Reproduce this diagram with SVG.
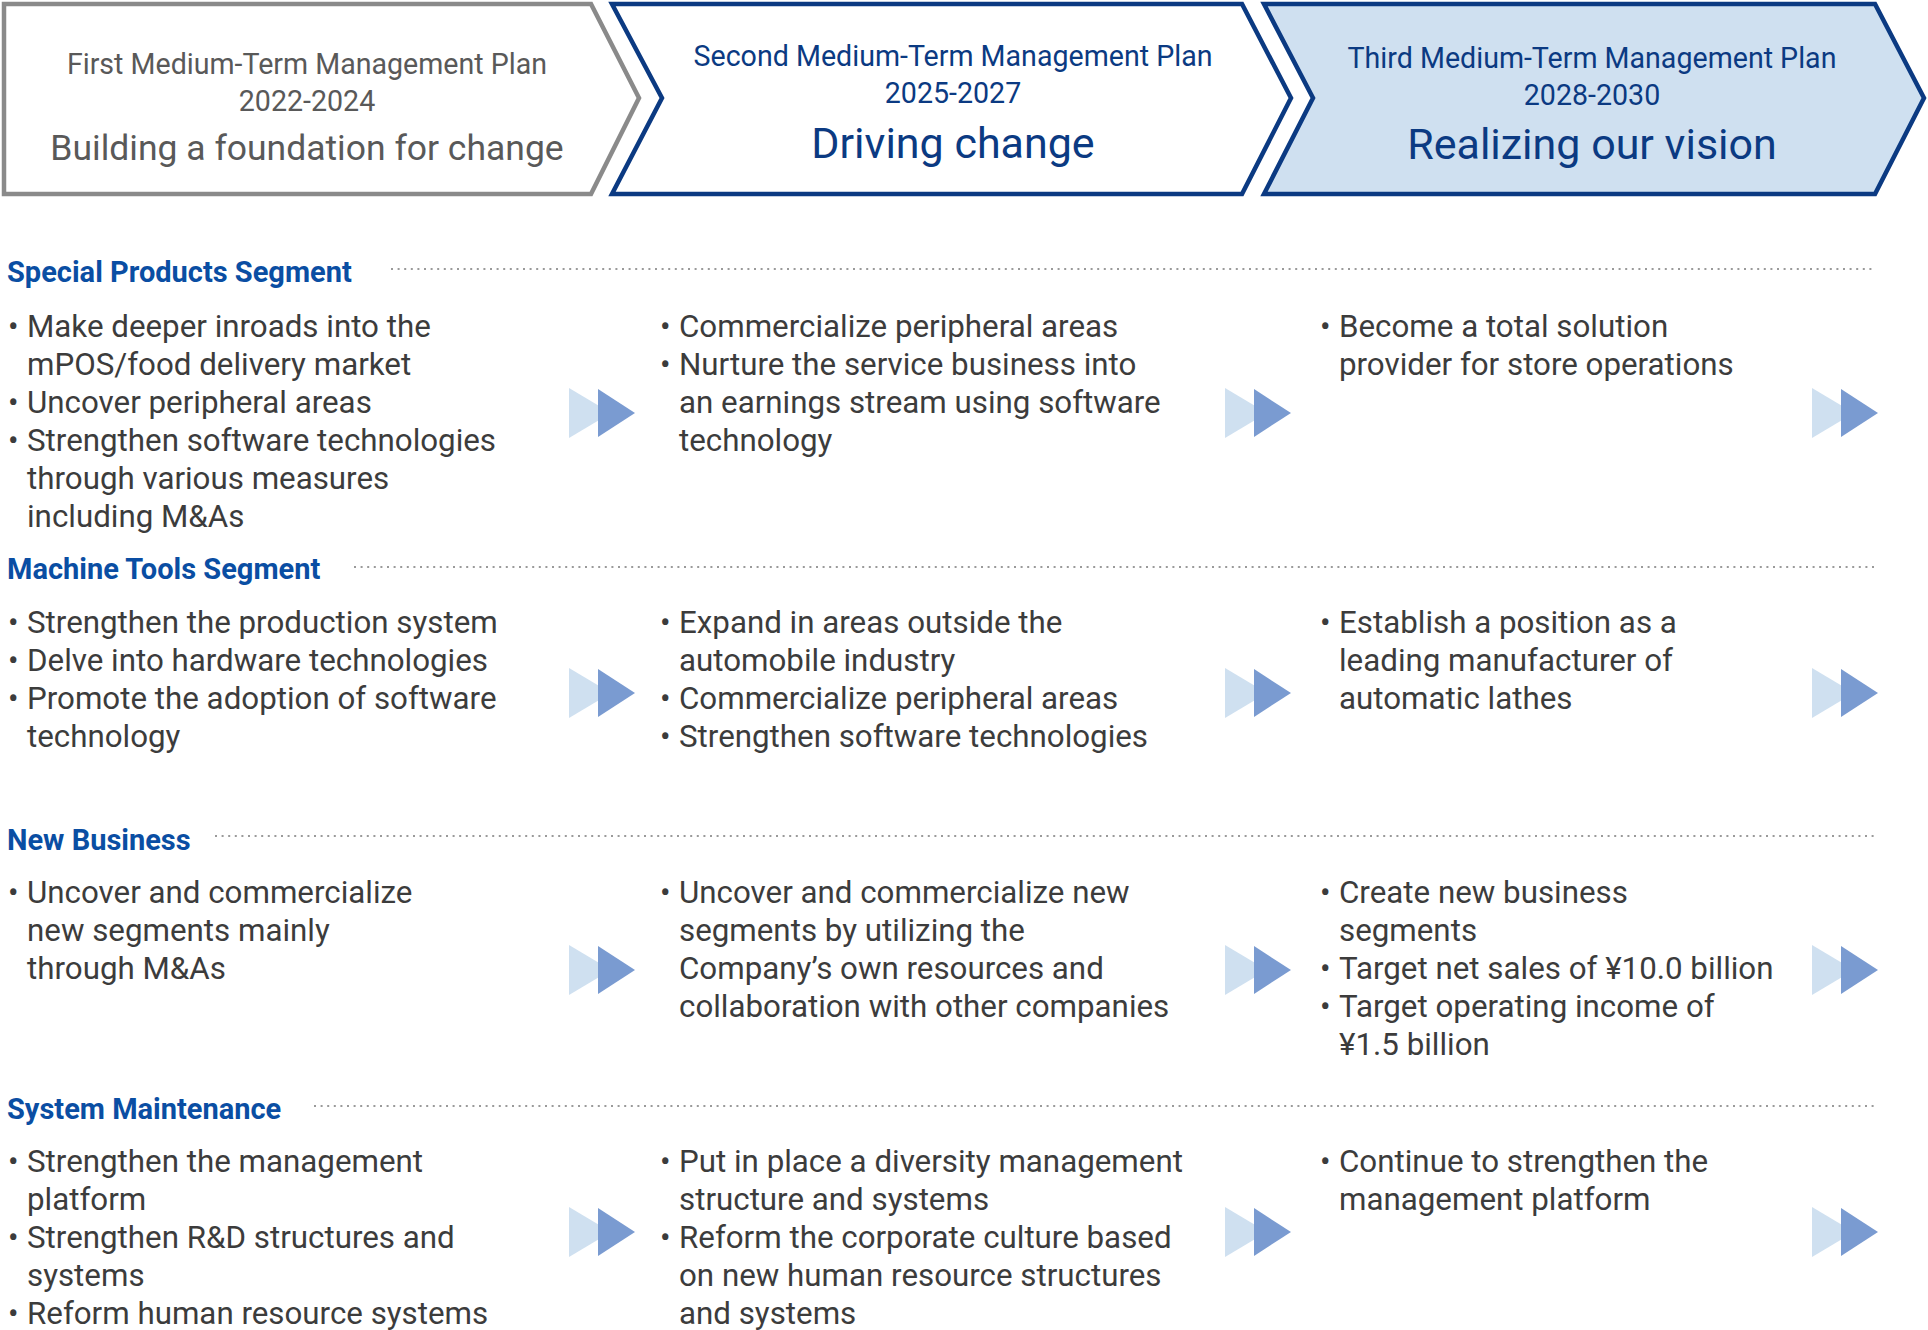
<svg xmlns="http://www.w3.org/2000/svg" width="1928" height="1330" viewBox="0 0 1928 1330">
<defs>
<style>
.t{font-family:Roboto,"Liberation Sans",sans-serif;}
.hs{font-size:28.6px;text-anchor:middle;}
.hb{font-size:43px;text-anchor:middle;}
.g{fill:#595959;}
.b{fill:#0b3a82;}
.sec{font-family:Roboto,"Liberation Sans",sans-serif;font-weight:bold;font-size:29px;fill:#0a4ea3;}
.body{font-family:Roboto,"Liberation Sans",sans-serif;font-size:31.3px;fill:#3c3c3c;}
.dot{stroke:#9a9a9a;stroke-width:2;stroke-dasharray:2 4.6;fill:none;}
.lt{fill:#cfe0f0;}
.dk{fill:#7a9bd1;}
</style>
<g id="dbl">
<polygon class="lt" points="0,0 42,25 0,50"/>
<polygon class="dk" points="29,1 66,25 29,49"/>
</g>
</defs>
<rect width="1928" height="1330" fill="#ffffff"/>

<g id="plan1">
<polygon points="4,4 591,4 639,98 591,194 4,194" fill="#ffffff" stroke="#8a8a8a" stroke-width="4.5"/>
<text class="t hs g" x="307" y="74">First Medium-Term Management Plan</text>
<text class="t hs g" x="307" y="111">2022-2024</text>
<text class="t g" x="307" y="160" font-size="35.5" text-anchor="middle">Building a foundation for change</text>
</g>
<g id="plan2">
<polygon points="612,4 1242,4 1291,98 1242,194 612,194 662,98" fill="#ffffff" stroke="#0b3a82" stroke-width="4.5"/>
<text class="t hs b" x="953" y="66">Second Medium-Term Management Plan</text>
<text class="t hs b" x="953" y="103">2025-2027</text>
<text class="t hb b" x="953" y="158">Driving change</text>
</g>
<g id="plan3">
<polygon points="1264,4 1875,4 1924,98 1875,194 1264,194 1313,98" fill="#cfe0f0" stroke="#0b3a82" stroke-width="4.5"/>
<text class="t hs b" x="1592" y="68">Third Medium-Term Management Plan</text>
<text class="t hs b" x="1592" y="105">2028-2030</text>
<text class="t hb b" x="1592" y="159">Realizing our vision</text>
</g>

<g id="connectors">
<line class="dot" x1="391" y1="269" x2="1875" y2="269"/>
<line class="dot" x1="354" y1="567" x2="1875" y2="567"/>
<line class="dot" x1="215" y1="836" x2="1875" y2="836"/>
<line class="dot" x1="314" y1="1106" x2="1875" y2="1106"/>
<use href="#dbl" x="569" y="388"/>
<use href="#dbl" x="1225" y="388"/>
<use href="#dbl" x="1812" y="388"/>
<use href="#dbl" x="569" y="668"/>
<use href="#dbl" x="1225" y="668"/>
<use href="#dbl" x="1812" y="668"/>
<use href="#dbl" x="569" y="945"/>
<use href="#dbl" x="1225" y="945"/>
<use href="#dbl" x="1812" y="945"/>
<use href="#dbl" x="569" y="1207"/>
<use href="#dbl" x="1225" y="1207"/>
<use href="#dbl" x="1812" y="1207"/>
</g>

<g id="special-products">
<text class="sec" x="7" y="282">Special Products Segment</text>
<g class="body">
<text x="8" y="337">•</text><text x="27" y="337">Make deeper inroads into the</text>
<text x="27" y="375">mPOS/food delivery market</text>
<text x="8" y="413">•</text><text x="27" y="413">Uncover peripheral areas</text>
<text x="8" y="451">•</text><text x="27" y="451">Strengthen software technologies</text>
<text x="27" y="489">through various measures</text>
<text x="27" y="527">including M&amp;As</text>
<text x="660" y="337">•</text><text x="679" y="337">Commercialize peripheral areas</text>
<text x="660" y="375">•</text><text x="679" y="375">Nurture the service business into</text>
<text x="679" y="413">an earnings stream using software</text>
<text x="679" y="451">technology</text>
<text x="1320" y="337">•</text><text x="1339" y="337">Become a total solution</text>
<text x="1339" y="375">provider for store operations</text>
</g>
</g>

<g id="machine-tools">
<text class="sec" x="7" y="579">Machine Tools Segment</text>
<g class="body">
<text x="8" y="633">•</text><text x="27" y="633">Strengthen the production system</text>
<text x="8" y="671">•</text><text x="27" y="671">Delve into hardware technologies</text>
<text x="8" y="709">•</text><text x="27" y="709">Promote the adoption of software</text>
<text x="27" y="747">technology</text>
<text x="660" y="633">•</text><text x="679" y="633">Expand in areas outside the</text>
<text x="679" y="671">automobile industry</text>
<text x="660" y="709">•</text><text x="679" y="709">Commercialize peripheral areas</text>
<text x="660" y="747">•</text><text x="679" y="747">Strengthen software technologies</text>
<text x="1320" y="633">•</text><text x="1339" y="633">Establish a position as a</text>
<text x="1339" y="671">leading manufacturer of</text>
<text x="1339" y="709">automatic lathes</text>
</g>
</g>

<g id="new-business">
<text class="sec" x="7" y="850">New Business</text>
<g class="body">
<text x="8" y="903">•</text><text x="27" y="903">Uncover and commercialize</text>
<text x="27" y="941">new segments mainly</text>
<text x="27" y="979">through M&amp;As</text>
<text x="660" y="903">•</text><text x="679" y="903">Uncover and commercialize new</text>
<text x="679" y="941">segments by utilizing the</text>
<text x="679" y="979">Company’s own resources and</text>
<text x="679" y="1017">collaboration with other companies</text>
<text x="1320" y="903">•</text><text x="1339" y="903">Create new business</text>
<text x="1339" y="941">segments</text>
<text x="1320" y="979">•</text><text x="1339" y="979">Target net sales of ¥10.0 billion</text>
<text x="1320" y="1017">•</text><text x="1339" y="1017">Target operating income of</text>
<text x="1339" y="1055">¥1.5 billion</text>
</g>
</g>

<g id="system-maintenance">
<text class="sec" x="7" y="1119">System Maintenance</text>
<g class="body">
<text x="8" y="1172">•</text><text x="27" y="1172">Strengthen the management</text>
<text x="27" y="1210">platform</text>
<text x="8" y="1248">•</text><text x="27" y="1248">Strengthen R&amp;D structures and</text>
<text x="27" y="1286">systems</text>
<text x="8" y="1324">•</text><text x="27" y="1324">Reform human resource systems</text>
<text x="660" y="1172">•</text><text x="679" y="1172">Put in place a diversity management</text>
<text x="679" y="1210">structure and systems</text>
<text x="660" y="1248">•</text><text x="679" y="1248">Reform the corporate culture based</text>
<text x="679" y="1286">on new human resource structures</text>
<text x="679" y="1324">and systems</text>
<text x="1320" y="1172">•</text><text x="1339" y="1172">Continue to strengthen the</text>
<text x="1339" y="1210">management platform</text>
</g>
</g>
</svg>
